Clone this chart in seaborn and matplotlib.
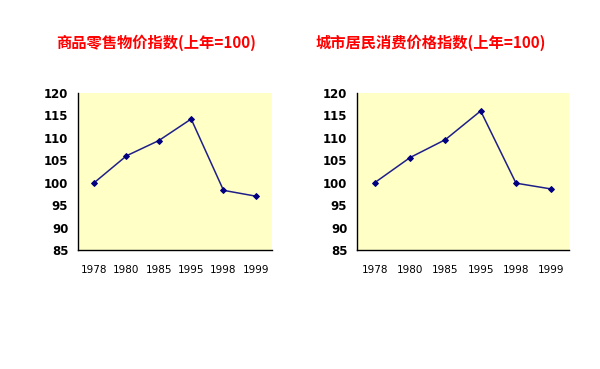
import matplotlib
matplotlib.use("Agg")
import matplotlib.pyplot as plt
import seaborn as sns
import pandas as pd

years = ["1978", "1980", "1985", "1995", "1998", "1999"]
retail_index = [100.0, 106.0, 109.4, 114.2, 98.3, 97.0]
cpi_urban = [100.0, 105.6, 109.6, 116.0, 99.9, 98.6]
titles = ["商品零售物价指数(上年=100)", "城市居民消费价格指数(上年=100)"]

sns.set_style("white")
plt.rcParams['font.family'] = ['Noto Sans CJK SC', 'DejaVu Sans']

fig = plt.figure(figsize=(6, 3.69), dpi=100)
fig.patch.set_facecolor("white")

# axes boxes in pixels: (left, right)
boxes = [(78, 272), (357, 569)]
title_x = [156, 431]
series = [retail_index, cpi_urban]

for (x0, x1), vals, title, tx in zip(boxes, series, titles, title_x):
    ax = fig.add_axes([x0 / 600, 1 - 250 / 369, (x1 - x0) / 600, 157 / 369])
    ax.set_facecolor("#FFFFC6")
    df = pd.DataFrame({"year": years, "value": vals})
    df["pos"] = range(len(years))
    sns.lineplot(data=df, x="pos", y="value", sort=False, ax=ax,
                 color="#1F1F8A", linewidth=1.1, marker="D", markersize=3,
                 markeredgecolor="#000080", markerfacecolor="#000080")
    ax.set_xlim(-0.5, len(years) - 0.5)
    ax.set_ylim(85, 120)
    ax.set_yticks(range(85, 121, 5))
    ax.set_yticklabels([str(v) for v in range(85, 121, 5)],
                       fontsize=8.5, fontweight="bold", family="DejaVu Sans",
                       color="black")
    ax.set_xticks(range(len(years)))
    ax.set_xticklabels(years, fontsize=7.5, family="DejaVu Sans",
                       color="black")
    ax.set_xticks([i + 0.5 for i in range(-1, len(years))], minor=True)
    ax.tick_params(axis="x", which="major", length=0, pad=11)
    ax.tick_params(axis="x", which="minor", direction="in", length=3,
                   width=0.8, color="black")
    ax.tick_params(axis="y", direction="out", length=3, width=0.8,
                   color="black", pad=4)
    ax.set_xlabel("")
    ax.set_ylabel("")
    for side in ["top", "right"]:
        ax.spines[side].set_visible(False)
    for side in ["left", "bottom"]:
        ax.spines[side].set_color("black")
        ax.spines[side].set_linewidth(1.0)
    fig.text(tx / 600, 1 - 43 / 369, title, color="#FF0000", fontsize=11,
             fontweight="bold", ha="center", va="center")

fig.savefig("out.png", dpi=100)
